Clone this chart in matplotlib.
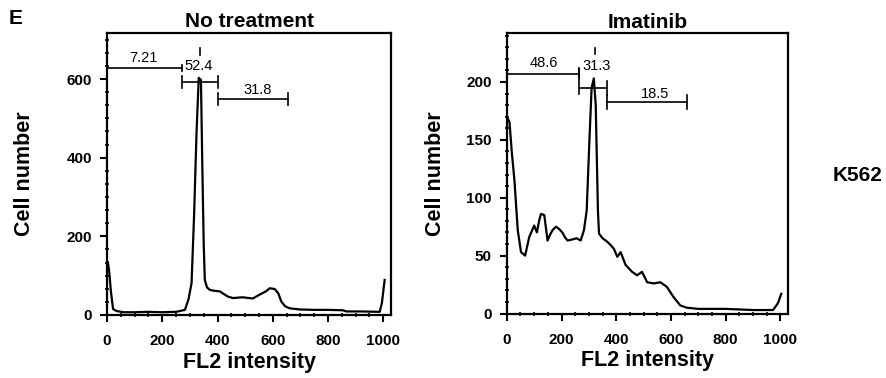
#!/usr/bin/env python3
"""Cell-cycle histograms of K562 cells (FL2 intensity), untreated vs imatinib."""

import matplotlib

matplotlib.use("Agg")
import matplotlib.pyplot as plt
from matplotlib.ticker import AutoMinorLocator, MultipleLocator

plt.rcParams["font.family"] = ["Liberation Sans", "DejaVu Sans"]

# No treatment histogram
ctrl_x = [0, 3, 8, 14, 22, 35, 60, 100, 150, 200, 250, 282, 295, 306, 315, 324,
          332, 336, 340, 345, 350, 354, 362, 372, 384, 408, 437, 456, 490, 528,
          553, 575, 589, 607, 620, 631, 645, 661, 698, 750, 800, 854, 866, 920,
          987, 995, 1005]
ctrl_y = [130, 135, 110, 60, 15, 10, 7, 7, 8, 7, 8, 13, 40, 81, 250, 463,
          603, 600, 598, 377, 180, 89, 70, 64, 62, 60, 47, 43, 45, 42,
          52, 60, 68, 66, 55, 34, 22, 17, 14, 13, 13, 12, 9, 9,
          8, 30, 89]

# Imatinib histogram
ima_x = [0, 5, 10, 18, 28, 40, 52, 67, 82, 100, 110, 118, 125, 137, 149, 158,
         167, 180, 191, 203, 212, 222, 240, 255, 270, 282, 292, 302, 310, 318,
         325, 333, 337, 350, 367, 380, 391, 404, 416, 434, 458, 476, 494, 513,
         537, 561, 585, 610, 634, 658, 700, 800, 900, 973, 991, 1003]
ima_y = [165, 168, 165, 140, 115, 72, 53, 50, 66, 76, 70, 80, 86, 85, 63, 68,
         72, 75, 73, 70, 66, 63, 64, 65, 63, 72, 89, 150, 195, 203,
         180, 89, 69, 65, 62, 59, 56, 49, 53, 42, 36, 33, 36, 27,
         26, 27, 23, 14, 7, 5, 4, 4, 3, 3, 9, 17]

# gates: (start, end, percent)
ctrl_gates = [(0, 270, "7.21"), (272, 400, "52.4"), (402, 656, "31.8")]
ima_gates = [(0, 264, "48.6"), (268, 367, "31.3"), (367, 658, "18.5")]

BOLD = dict(fontweight="bold")


def draw_gate(ax, x0, x1, y, cap, label, lx, ly, left_cap=True):
    ax.plot([x0, x1], [y, y], color="black", lw=1.2, clip_on=False)
    if left_cap:
        ax.plot([x0, x0], [y - cap, y + cap], color="black", lw=1.2)
    ax.plot([x1, x1], [y - cap, y + cap], color="black", lw=1.2)
    ax.text(lx, ly, label, ha="center", va="center", fontsize=10.5)


def style_axes(ax, ymax, ymajor, yminor_n):
    ax.set_xlim(0, 1028)
    ax.set_ylim(0, ymax)
    ax.xaxis.set_major_locator(MultipleLocator(200))
    ax.xaxis.set_minor_locator(AutoMinorLocator(4))
    ax.yaxis.set_major_locator(MultipleLocator(ymajor))
    ax.yaxis.set_minor_locator(AutoMinorLocator(yminor_n))
    for s in ax.spines.values():
        s.set_linewidth(1.6)
    ax.tick_params(which="major", direction="out", length=5, width=1.5,
                   labelsize=11, pad=6)
    ax.tick_params(axis="x", which="major", pad=9)
    ax.tick_params(which="minor", direction="inout", length=2.5, width=1.2)
    for lab in ax.get_xticklabels() + ax.get_yticklabels():
        lab.set_fontweight("bold")
    ax.set_xlabel("FL2 intensity", fontsize=15.5, **BOLD)
    ax.set_ylabel("Cell number", fontsize=15.5, **BOLD)
    ax.xaxis.set_label_coords(0.5, -0.13)


fig = plt.figure(figsize=(8.86, 3.78), dpi=100)

ax1 = fig.add_axes([0.1208, 0.1667, 0.3205, 0.746])
ax1.plot(ctrl_x, ctrl_y, color="black", lw=1.6)
style_axes(ax1, 717, 200, 6)
ax1.yaxis.set_label_coords(-0.254, 0.5)
ax1.set_title("No treatment", fontsize=15, pad=4, **BOLD)
(a0, a1, p0), (b0, b1, p1), (c0, c1, p2) = ctrl_gates
draw_gate(ax1, a0, a1, 628, 8, p0, 130, 653, left_cap=False)
draw_gate(ax1, b0, b1, 592, 15, p1, 330, 632)
draw_gate(ax1, c0, c1, 549, 15, p2, 547, 573)
ax1.plot([336, 336], [660, 680], color="black", lw=1.2)

ax2 = fig.add_axes([0.572, 0.1706, 0.3175, 0.7413])
ax2.plot(ima_x, ima_y, color="black", lw=1.6)
style_axes(ax2, 242, 50, 5)
ax2.yaxis.set_label_coords(-0.216, 0.5)
ax2.set_title("Imatinib", fontsize=15, pad=4, **BOLD)
(a0, a1, p0), (b0, b1, p1), (c0, c1, p2) = ima_gates
draw_gate(ax2, a0, a1, 207, 4, p0, 137, 216, left_cap=False)
ax2.plot([b0 - 4, b0 - 4], [190, 212], color="black", lw=1.2)
draw_gate(ax2, b0, b1, 195, 6, p1, 328, 214, left_cap=False)
draw_gate(ax2, c0, c1, 183, 6, p2, 543, 190)
ax2.plot([322, 322], [224, 229], color="black", lw=1.2)

fig.text(16 / 886, 1 - 18 / 378, "E", ha="center", va="center",
         fontsize=15, **BOLD)
fig.text(858 / 886, 1 - 175 / 378, "K562", ha="center", va="center",
         fontsize=15, **BOLD)

fig.savefig("out.png", dpi=100)
